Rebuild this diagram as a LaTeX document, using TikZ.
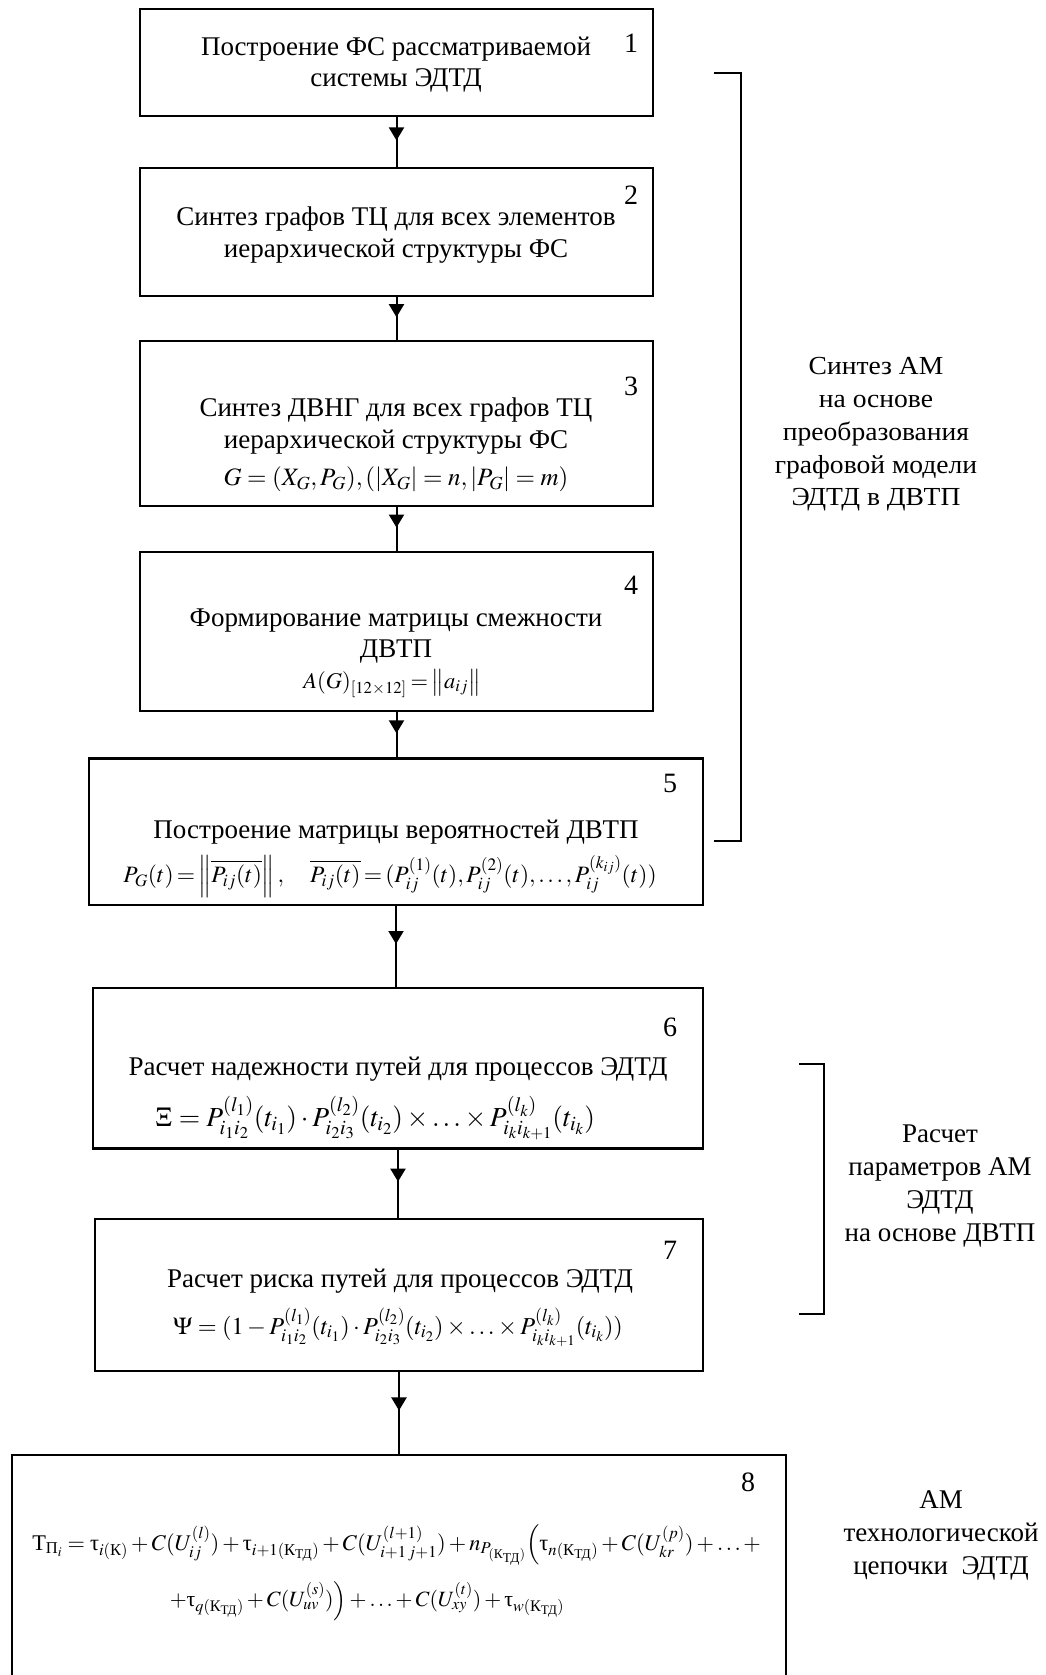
\documentclass[tikz,border=0pt]{standalone}
\usepackage{amsmath}
\usepackage{mathptmx}
\usepackage{fontspec}
\setmainfont{Liberation Serif}
\newfontfamily\widefont[FakeStretch=1.06]{Liberation Serif}
\usetikzlibrary{arrows.meta,calc}
\newcommand{\ttau}{\text{τ}}
\newcommand{\KT}{\text{К}_{\text{ТД}}}
\begin{document}
\begin{tikzpicture}[x=1pt,y=-1pt,
  box/.style={draw, line width=2.6pt, inner sep=0pt, outer sep=0pt},
  txt/.style={inner sep=0pt, font=\fontsize{27}{31}\selectfont, text height=0.68em, text depth=0.18em},
  frm/.style={inner sep=0pt, font=\fontsize{#1}{31}\selectfont},
  num/.style={inner sep=0pt, font=\fontsize{28}{31}\selectfont},
  side/.style={inner sep=0pt, align=center, font=\fontsize{27}{32.7}\selectfont},
  flow/.style={line width=2pt},
  tip/.style={line width=2pt, -{Triangle[width=15pt,length=13pt]}},
  brk/.style={line width=2pt}]
\clip (0,0) rectangle (1046,1675);
\fill[white] (0,0) rectangle (1046,1675);

% boxes
\node[box, minimum width=513pt, minimum height=107pt] (b1) at (396.5,62.5) {};
\node[box, minimum width=513pt, minimum height=128pt] (b2) at (396.5,232) {};
\node[box, minimum width=513pt, minimum height=165pt] (b3) at (396.5,423.5) {};
\node[box, minimum width=513pt, minimum height=159pt] (b4) at (396.5,631.5) {};
\node[box, minimum width=614pt, minimum height=146.5pt] (b5) at (396,831.75) {};
\node[box, minimum width=610pt, minimum height=160.5pt] (b6) at (398,1068.25) {};
\node[box, minimum width=608pt, minimum height=152pt] (b7) at (399,1295) {};
\node[box, minimum width=774pt, minimum height=245pt] (b8) at (399,1577.5) {};

% numbers
\node[num] (n1) at (631,43) {1};
\node[num] (n2) at (631,195.5) {2};
\node[num] (n3) at (631,386) {3};
\node[num] (n4) at (631,585.5) {4};
\node[num] (n5) at (670,783) {5};
\node[num] (n6) at (670,1027) {6};
\node[num] (n7) at (670,1250) {7};
\node[num] (n8) at (748,1482) {8};

% texts
\node[txt] (t1a) at (396,53.4) {Построение ФС рассматриваемой};
\node[txt] (t1b) at (396,84.4) {системы ЭДТД};
\node[txt] (t2a) at (396,223.4) {Синтез графов ТЦ для всех элементов};
\node[txt] (t2b) at (396,255.4) {иерархической структуры ФС};
\node[txt] (t3a) at (396,414.4) {Синтез ДВНГ для всех графов ТЦ};
\node[txt] (t3b) at (396,446.4) {иерархической структуры ФС};
\node[frm=25] (f3) at (396,479) {$G=(X_G,P_G),(\lvert X_G\rvert=n,\lvert P_G\rvert=m)$};
\node[txt] (t4a) at (396,623.9) {Формирование матрицы смежности};
\node[txt] (t4b) at (396,654.9) {ДВТП};
\node[frm=22.5] (f4) at (392,683.5) {$\thickmuskip=3mu A(G)_{[12{\times}12]}=\left\|a_{ij}\right\|$};
\node[txt] (t5a) at (396,836.4) {Построение матрицы вероятностей ДВТП};
\node[frm=23.5] (f5) at (390,876.5) {$\thickmuskip=2.5mu P_G(t)=\left\|\overline{P_{ij}(t)}\right\|,\quad \overline{P_{ij}(t)}=(P_{ij}^{(1)}(t),P_{ij}^{(2)}(t),\ldots,P_{ij}^{(k_{ij})}(t))$};
\node[txt] (t6a) at (398,1073.4) {Расчет надежности путей для процессов ЭДТД};
\node[frm=27.5] (f6) at (375,1118.5) {$\Xi=P_{i_1i_2}^{(l_1)}(t_{i_1})\cdot P_{i_2i_3}^{(l_2)}(t_{i_2})\times\ldots\times P_{i_ki_{k+1}}^{(l_k)}(t_{i_k})$};
\node[txt] (t7a) at (400,1285.4) {Расчет риска путей для процессов ЭДТД};
\node[frm=24.3] (f7) at (398,1327) {$\Psi=(1-P_{i_1i_2}^{(l_1)}(t_{i_1})\cdot P_{i_2i_3}^{(l_2)}(t_{i_2})\times\ldots\times P_{i_ki_{k+1}}^{(l_k)}(t_{i_k}))$};
\node[frm=22.4] (f8a) at (396.5,1545) {$\text{Т}_{\text{П}_i}=\ttau_{i(\text{К})}+C(U_{ij}^{(l)})+\ttau_{i+1(\KT)}+C(U_{i+1\,j+1}^{(l+1)})+n_{P_{(\KT)}}\Bigl(\ttau_{n(\KT)}+C(U_{kr}^{(p)})+\ldots+$};
\node[frm=21.8] (f8b) at (367,1601) {$+\ttau_{q(\KT)}+C(U_{uv}^{(s)})\Bigr)+\ldots+C(U_{xy}^{(t)})+\ttau_{w(\KT)}$};

% side labels
\node[side, font=\widefont\fontsize{26}{32.7}\selectfont] (s1) at (876,434.5) {Синтез АМ\\на основе\\преобразования\\графовой модели\\ЭДТД в ДВТП};
\node[side] (s2) at (940,1186) {Расчет\\параметров АМ\\ЭДТД\\на основе ДВТП};
\node[side] (s3) at (941,1535.5) {АМ\\технологической\\цепочки~~ЭДТД};

% brackets
\draw[brk] (714,72.6) -- (741,72.6) -- (741,841) -- (714,841);
\draw[brk] (799,1064) -- (824,1064) -- (824,1314) -- (799,1314);

% connectors
\foreach \a/\b in {b1/b2,b2/b3,b3/b4,b4/b5,b5/b6,b6/b7,b7/b8}{
  \draw[flow] (\a.south) -- (\a.south |- \b.north);
  \draw[tip] (\a.south) -- ($(\a.south)!0.47!(\a.south |- \b.north)$);
}
\end{tikzpicture}
\end{document}
